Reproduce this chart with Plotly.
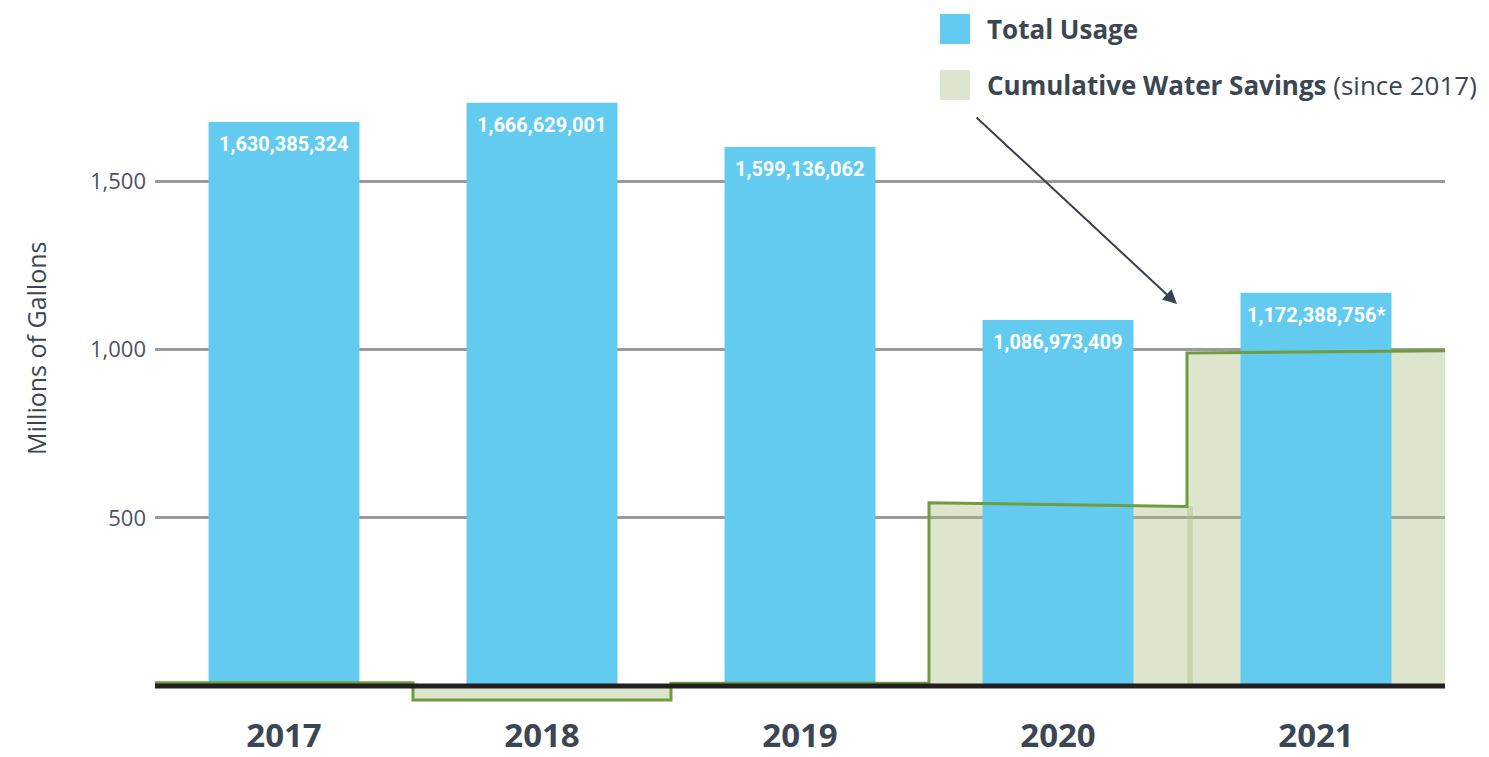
import plotly.graph_objects as go

# ---------------- data ----------------
years = ["2017", "2018", "2019", "2020", "2021"]
usage = [1677, 1734, 1603, 1088, 1169]          # bar heights as drawn (millions of gallons)
usage_labels = ["1,630,385,324", "1,666,629,001", "1,599,136,062",
                "1,086,973,409", "1,172,388,756*"]
savings_start = [10, -42, 8, 545, 990]           # cumulative savings at start of each year
savings_end = [10, -42, 8, 534, 997]             # cumulative savings at end of each year
y_ticks = [500, 1000, 1500]
y_tick_text = ["500", "1,000", "1,500"]

# ---------------- styling / layout geometry ----------------
OFF = 8                       # default page (body) margin of the html page
W, H = 1489 - OFF, 757 - OFF
L_PX, R_PX = 155, 1445        # target page pixels
T_PX, B_PX = 10, 715
ZERO_PX = 686
K = 168.15 / 500.0            # pixels per unit
y_min = -(B_PX - ZERO_PX) / K
y_max = (ZERO_PX - T_PX) / K
SEG_OVERLAP = 0.023           # small overlap of the shaded year blocks

BLUE = "#62cbef"
FILL = "rgba(170,190,130,0.40)"
LINE_G = "#6f9c3d"
DARK = "#3b4652"
GRID = "#9a9a9c"


def px_x(p):
    return (p - L_PX) / (R_PX - L_PX)


def px_y(p):
    return (B_PX - p) / (B_PX - T_PX)


xs = list(range(len(years)))
sx, sy = [], []
for i in xs:
    sx += [i - 0.5, i + 0.5]
    sy += [savings_start[i], savings_end[i]]

fig = go.Figure()

# shaded blocks, one per year (main subplot, below bars)
for i in xs:
    extend = SEG_OVERLAP if (i < len(xs) - 1 and savings_end[i] > 0) else 0
    fig.add_trace(go.Scatter(x=[i - 0.5, i + 0.5, i + 0.5 + extend],
                             y=[savings_start[i], savings_end[i], savings_end[i]],
                             mode="lines", fill="tozeroy",
                             fillcolor=FILL, line=dict(width=0, color=FILL),
                             hoverinfo="skip", showlegend=False,
                             xaxis="x", yaxis="y"))

fig.add_trace(go.Bar(x=xs, y=usage, width=0.585, marker=dict(color=BLUE, line=dict(width=0)),
                     showlegend=False, xaxis="x", yaxis="y2", name="Total Usage"))

fig.add_trace(go.Scatter(x=sx, y=sy, mode="lines", line=dict(color=LINE_G, width=3),
                         showlegend=False, xaxis="x", yaxis="y2",
                         name="Cumulative Water Savings"))

annotations = []
for i in xs:
    annotations.append(dict(x=i, y=usage[i], xref="x", yref="y2", text=usage_labels[i],
                            showarrow=False, yanchor="middle", yshift=-22,
                            font=dict(family="Roboto", size=20, color="white", weight="bold")))

annotations.append(dict(x=px_x(36), y=px_y(348), xref="paper", yref="paper",
                        text="Millions of Gallons", textangle=-90, showarrow=False,
                        xanchor="center", yanchor="middle",
                        font=dict(family="Open Sans", size=25, color=DARK)))

annotations.append(dict(x=px_x(985), y=px_y(29), xref="paper", yref="paper",
                        text="<b>Total Usage</b>", showarrow=False,
                        xanchor="left", yanchor="middle",
                        font=dict(family="Open Sans", size=26, color=DARK)))
annotations.append(dict(x=px_x(985), y=px_y(85), xref="paper", yref="paper",
                        text="<b>Cumulative Water Savings</b> (since 2017)", showarrow=False,
                        xanchor="left", yanchor="middle",
                        font=dict(family="Open Sans", size=26, color=DARK)))

head_x, head_y = 1177, 304
tail_x, tail_y = 975, 116
annotations.append(dict(x=px_x(head_x), y=px_y(head_y), xref="paper", yref="paper",
                        ax=tail_x - head_x, ay=tail_y - head_y, text="",
                        showarrow=True, arrowhead=2, arrowsize=1.4, arrowwidth=2,
                        arrowcolor="#37424e", standoff=0))

shapes = [
    dict(type="rect", xref="paper", yref="paper", x0=px_x(940), x1=px_x(970),
         y0=px_y(44), y1=px_y(14), fillcolor=BLUE, line=dict(width=0)),
    dict(type="rect", xref="paper", yref="paper", x0=px_x(940), x1=px_x(970),
         y0=px_y(100), y1=px_y(70), fillcolor="#dde5cf", line=dict(width=0)),
    dict(type="line", xref="paper", yref="y", x0=0, x1=1, y0=0, y1=0,
         line=dict(color="#231f20", width=5), layer="above"),
]

fig.update_layout(
    width=W, height=H,
    margin=dict(l=L_PX - OFF, r=(W + OFF) - R_PX, t=T_PX - OFF, b=(H + OFF) - B_PX, pad=0),
    paper_bgcolor="white", plot_bgcolor="white",
    barmode="overlay",
    showlegend=False,
    xaxis=dict(range=[-0.5, len(years) - 0.5], tickvals=xs, ticktext=years,
               showgrid=False, zeroline=False, showline=False, ticks="",
               automargin=False, ticklabelstandoff=-2,
               tickfont=dict(family="Open Sans", size=33, color=DARK, weight="bold")),
    yaxis=dict(range=[y_min, y_max], tickvals=y_ticks, ticktext=y_tick_text,
               showgrid=True, gridcolor=GRID, gridwidth=3, zeroline=False,
               showline=False, ticks="", ticklabelstandoff=8, automargin=False,
               tickfont=dict(family="Open Sans", size=22, color="#4a5460")),
    yaxis2=dict(range=[y_min, y_max], overlaying="y", visible=False,
                showgrid=False, zeroline=False, automargin=False),
    annotations=annotations,
    shapes=shapes,
)

fig.write_html("out.html")
